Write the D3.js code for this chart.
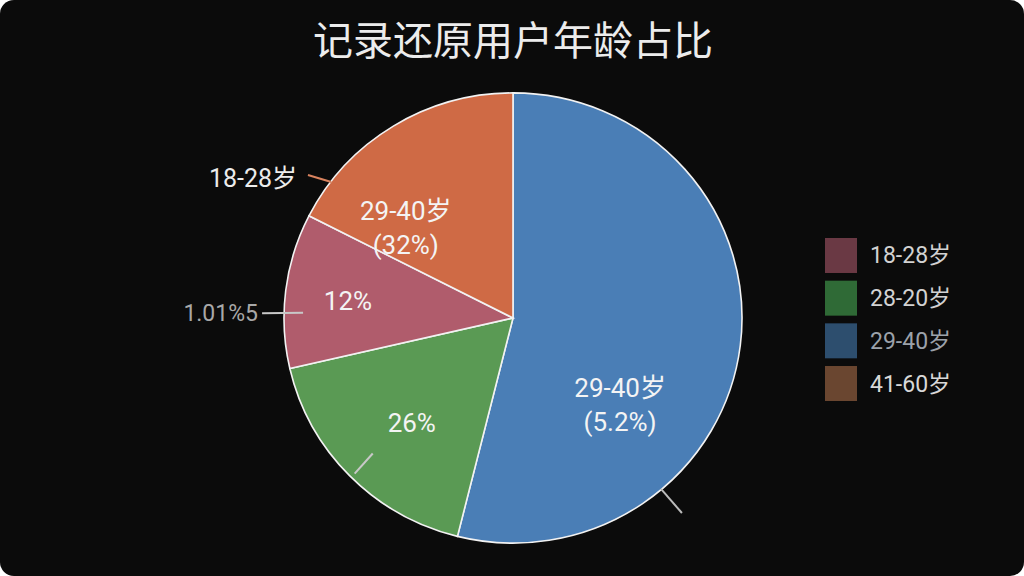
<!DOCTYPE html>
<html>
<head>
<meta charset="utf-8">
<script src="https://cdn.jsdelivr.net/npm/d3@7/dist/d3.min.js"></script>
<style>
  html, body { margin: 0; padding: 0; background: #ffffff; }
  svg { display: block; }
</style>
</head>
<body>
<div id="chart"></div>
<script>
// Data, in drawing order (clockwise from 12 o'clock)
const sliceNames = ["29-40岁", "28-20岁", "18-28岁", "41-60岁"];
const sliceValues = [53.9, 17.5, 11.1, 17.5];
const sliceColors = ["#4a7eb6", "#5a9a54", "#b05c6c", "#cf6a45"];

// labels shown inside the slices (garbled as in the source)
const sliceLabels = [["29-40岁", "(5.2%)"], ["26%"], ["12%"], ["29-40岁", "(32%)"]];

// legend
const legendNames = ["18-28岁", "28-20岁", "29-40岁", "41-60岁"];
const legendColors = ["#6a3944", "#2f6a36", "#2d4e6e", "#6a4630"];
const legendText = ["#d2d2d2", "#d2d2d2", "#9ca2aa", "#d8d8d8"];

const title = "记录还原用户年龄占比";

const width = 1024, height = 576;
const cx = 513, cy = 318, radius = 229;

const svg = d3.select("#chart")
    .append("svg")
    .attr("width", width)
    .attr("height", height);

svg.append("rect")
    .attr("width", width)
    .attr("height", height)
    .attr("rx", 14)
    .attr("fill", "#0b0b0b");

svg.append("text")
    .attr("x", 513)
    .attr("y", 55)
    .attr("text-anchor", "middle")
    .attr("font-family", "'Noto Sans CJK SC', sans-serif")
    .attr("font-size", 40)
    .attr("fill", "#ececec")
    .text(title);

const g = svg.append("g").attr("transform", `translate(${cx},${cy})`);

const pie = d3.pie().sort(null).value(d => d);
const arcs = pie(sliceValues);
const arc = d3.arc().innerRadius(0).outerRadius(radius);

// the source pie is a touch flatter than it is wide
g.append("g")
    .attr("transform", "scale(1,0.983)")
    .selectAll("path.slice")
    .data(arcs)
    .enter()
    .append("path")
    .attr("class", "slice")
    .attr("d", arc)
    .attr("fill", (d, i) => sliceColors[i])
    .attr("stroke", "#f2f2f2")
    .attr("stroke-width", 1.6)
    .attr("vector-effect", "non-scaling-stroke");

// label anchors in polar form: [angle deg, radius]
const labelPolar = [[129.1, 138], [223.9, 146], [276.0, 166], [310.0, 140]];
const lineGap = 34;

labelPolar.forEach((p, i) => {
    const [x, y] = d3.pointRadial(p[0] * Math.PI / 180, p[1]);
    const lines = sliceLabels[i];
    const t = g.append("text")
        .attr("text-anchor", "middle")
        .attr("font-family", "Roboto, 'Noto Sans CJK SC', sans-serif")
        .attr("font-size", 26)
        .attr("fill", "#f4f4f4");
    lines.forEach((s, k) => {
        t.append("tspan")
            .attr("x", x)
            .attr("y", y + (k - (lines.length - 1) / 2) * lineGap + 9)
            .text(s);
    });
});

// leader lines: [angle0, r0, angle1, r1, colour]
const leaders = [
    [306.8, 227, 304.9, 250, "#d9835f"],
    [271.4, 210, 271.1, 251, "#c8c8c8"],
    [226.0, 195, 225.5, 222, "#c8c8c8"],
    [139.1, 226, 139.1, 258, "#bbbbbb"]
];

leaders.forEach(l => {
    const a = d3.pointRadial(l[0] * Math.PI / 180, l[1]);
    const b = d3.pointRadial(l[2] * Math.PI / 180, l[3]);
    g.append("line")
        .attr("x1", a[0]).attr("y1", a[1])
        .attr("x2", b[0]).attr("y2", b[1])
        .attr("stroke", l[4])
        .attr("stroke-width", 2);
});

// outside labels
const outside = [
    { text: "18-28岁", x: 297, y: 187, color: "#ececec", size: 25 },
    { text: "1.01%5", x: 258, y: 321, color: "#a8a8a8", size: 23 }
];
svg.selectAll("text.outside")
    .data(outside)
    .enter()
    .append("text")
    .attr("class", "outside")
    .attr("x", d => d.x)
    .attr("y", d => d.y)
    .attr("text-anchor", "end")
    .attr("font-family", "Roboto, 'Noto Sans CJK SC', sans-serif")
    .attr("font-size", d => d.size)
    .attr("fill", d => d.color)
    .text(d => d.text);

// legend
const legendY = d3.scaleBand()
    .domain(legendNames)
    .range([238, 401])
    .paddingInner(0.18);

const legend = svg.append("g");
legend.selectAll("rect")
    .data(legendNames)
    .enter()
    .append("rect")
    .attr("x", 825)
    .attr("y", d => legendY(d))
    .attr("width", 32)
    .attr("height", legendY.bandwidth())
    .attr("fill", (d, i) => legendColors[i]);

legend.selectAll("text")
    .data(legendNames)
    .enter()
    .append("text")
    .attr("x", 870)
    .attr("y", d => legendY(d) + legendY.bandwidth() / 2 + 8)
    .attr("font-family", "Roboto, 'Noto Sans CJK SC', sans-serif")
    .attr("font-size", 23)
    .attr("fill", (d, i) => legendText[i])
    .text(d => d);
</script>
</body>
</html>
